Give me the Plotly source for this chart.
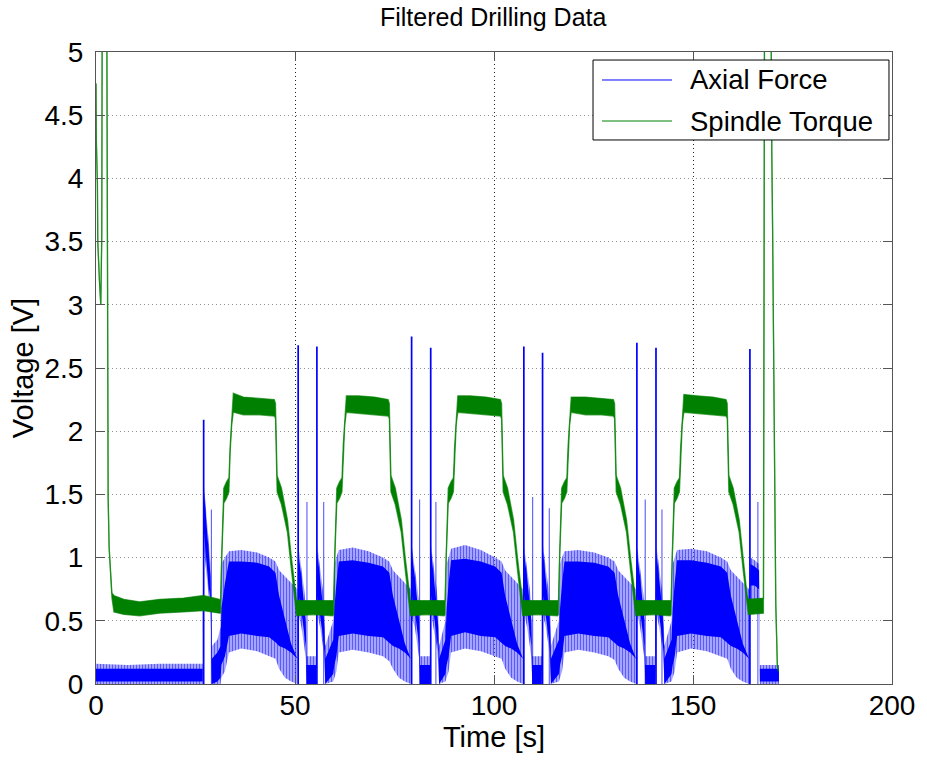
import plotly.graph_objects as go

# ---------------- Axial force (blue) ----------------
# Envelope of the noisy force signal: outer (sparse) band and inner (dense) band.
AF_T = [
    0.0, 8.0, 16.0, 26.8,
    27.0, 27.6, 28.2, 28.8,
    29.1, 30.5, 31.3,
    31.5, 32.4, 33.4, 36.5, 40.5, 43.5, 45.1,
    46.0, 47.5, 49.0, 50.6,
    50.9, 51.6, 52.3, 52.7, 52.9, 55.3,
    55.6, 56.3, 57.0, 57.4, 57.6, 59.6,
    59.9, 60.4, 61.0, 64.5, 68.5, 72.1, 73.7,
    74.6, 76.1, 77.6, 79.1,
    79.4, 80.1, 80.8, 81.2, 81.4, 83.9,
    84.2, 84.9, 85.6, 86.0, 86.2, 87.8,
    88.1, 88.6, 89.2, 92.7, 96.7, 100.3, 101.9,
    102.8, 104.3, 105.8, 107.3,
    107.6, 108.3, 109.0, 109.4, 109.6, 112.0,
    112.3, 113.0, 113.7, 114.1, 114.3, 116.3,
    116.6, 117.1, 117.7, 121.2, 125.2, 128.7, 130.3,
    131.2, 132.7, 134.2, 135.7,
    136.0, 136.7, 137.4, 137.8, 138.0, 140.5,
    140.8, 141.5, 142.2, 142.6, 142.8, 144.6,
    144.9, 145.4, 146.0, 149.5, 153.5, 157.0, 158.6,
    159.5, 161.0, 162.5, 164.1,
    164.4, 165.5, 166.6,
    166.8, 171.6,
]
AF_OUT_LO = [
    0.00, 0.00, 0.00, 0.00,
    1.10, 0.90, 0.72, 0.55,
    0.00, 0.00, 0.00,
    0.05, 0.10, 0.25, 0.28, 0.26, 0.22, 0.20,
    0.12, 0.05, 0.02, 0.00,
    0.55, 0.45, 0.30, 0.20, 0.00, 0.00,
    0.55, 0.45, 0.30, 0.15, 0.00, 0.02,
    0.05, 0.10, 0.25, 0.27, 0.25, 0.22, 0.18,
    0.12, 0.05, 0.02, 0.00,
    0.52, 0.45, 0.30, 0.20, 0.00, 0.00,
    0.55, 0.44, 0.30, 0.15, 0.00, 0.02,
    0.05, 0.10, 0.25, 0.28, 0.26, 0.22, 0.20,
    0.12, 0.05, 0.02, 0.00,
    0.55, 0.45, 0.30, 0.20, 0.00, 0.00,
    0.55, 0.45, 0.30, 0.15, 0.00, 0.02,
    0.05, 0.10, 0.25, 0.27, 0.25, 0.22, 0.19,
    0.12, 0.05, 0.02, 0.00,
    0.55, 0.45, 0.30, 0.20, 0.00, 0.00,
    0.55, 0.45, 0.30, 0.15, 0.00, 0.02,
    0.05, 0.10, 0.25, 0.28, 0.26, 0.22, 0.20,
    0.12, 0.05, 0.02, 0.00,
    0.60, 0.60, 0.55,
    0.00, 0.00,
]
AF_OUT_HI = [
    0.16, 0.15, 0.16, 0.16,
    1.62, 1.40, 1.12, 0.95,
    0.30, 0.35, 0.45,
    0.95, 1.00, 1.05, 1.06, 1.04, 1.00, 0.97,
    0.90, 0.85, 0.80, 0.75,
    1.08, 0.92, 0.75, 0.62, 0.22, 0.22,
    1.10, 0.92, 0.75, 0.60, 0.30, 0.50,
    0.95, 1.00, 1.06, 1.08, 1.05, 1.00, 0.97,
    0.90, 0.85, 0.80, 0.75,
    1.08, 0.92, 0.75, 0.62, 0.22, 0.22,
    1.10, 0.92, 0.75, 0.60, 0.30, 0.50,
    0.95, 1.00, 1.07, 1.10, 1.06, 1.00, 0.97,
    0.90, 0.85, 0.80, 0.75,
    1.08, 0.92, 0.75, 0.62, 0.22, 0.22,
    1.10, 0.92, 0.75, 0.60, 0.30, 0.50,
    0.95, 1.00, 1.05, 1.06, 1.04, 1.00, 0.97,
    0.90, 0.85, 0.80, 0.75,
    1.08, 0.92, 0.75, 0.62, 0.22, 0.22,
    1.10, 0.92, 0.75, 0.60, 0.30, 0.50,
    0.95, 1.00, 1.06, 1.07, 1.05, 1.00, 0.97,
    0.90, 0.85, 0.80, 0.75,
    1.00, 0.98, 0.95,
    0.15, 0.15,
]
AF_IN_LO = [
    0.02, 0.02, 0.02, 0.02,
    1.25, 1.00, 0.80, 0.65,
    0.00, 0.02, 0.05,
    0.15, 0.22, 0.38, 0.40, 0.38, 0.37, 0.33,
    0.30, 0.28, 0.25, 0.20,
    0.70, 0.58, 0.40, 0.30, 0.00, 0.00,
    0.70, 0.55, 0.38, 0.25, 0.00, 0.08,
    0.15, 0.22, 0.38, 0.40, 0.38, 0.37, 0.33,
    0.30, 0.28, 0.25, 0.20,
    0.70, 0.58, 0.40, 0.30, 0.00, 0.00,
    0.70, 0.55, 0.38, 0.25, 0.00, 0.08,
    0.15, 0.22, 0.38, 0.41, 0.38, 0.37, 0.33,
    0.30, 0.28, 0.25, 0.20,
    0.70, 0.58, 0.40, 0.30, 0.00, 0.00,
    0.70, 0.55, 0.38, 0.25, 0.00, 0.08,
    0.15, 0.22, 0.38, 0.40, 0.38, 0.37, 0.33,
    0.30, 0.28, 0.25, 0.20,
    0.70, 0.58, 0.40, 0.30, 0.00, 0.00,
    0.70, 0.55, 0.38, 0.25, 0.00, 0.08,
    0.15, 0.22, 0.38, 0.40, 0.38, 0.37, 0.33,
    0.30, 0.28, 0.25, 0.20,
    0.78, 0.78, 0.75,
    0.02, 0.02,
]
AF_IN_HI = [
    0.12, 0.12, 0.12, 0.12,
    1.58, 1.32, 1.05, 0.85,
    0.20, 0.25, 0.30,
    0.60, 0.80, 0.97, 0.97, 0.96, 0.93, 0.88,
    0.70, 0.50, 0.32, 0.20,
    1.02, 0.85, 0.65, 0.50, 0.15, 0.15,
    1.05, 0.85, 0.62, 0.45, 0.20, 0.35,
    0.60, 0.80, 0.97, 0.98, 0.96, 0.93, 0.88,
    0.70, 0.50, 0.32, 0.20,
    1.02, 0.85, 0.65, 0.50, 0.15, 0.15,
    1.05, 0.85, 0.62, 0.45, 0.20, 0.35,
    0.60, 0.80, 0.98, 0.99, 0.97, 0.93, 0.88,
    0.70, 0.50, 0.32, 0.20,
    1.02, 0.85, 0.65, 0.50, 0.15, 0.15,
    1.05, 0.85, 0.62, 0.45, 0.20, 0.35,
    0.60, 0.80, 0.97, 0.97, 0.96, 0.93, 0.88,
    0.70, 0.50, 0.32, 0.20,
    1.02, 0.85, 0.65, 0.50, 0.15, 0.15,
    1.05, 0.85, 0.62, 0.45, 0.20, 0.35,
    0.60, 0.80, 0.98, 0.98, 0.96, 0.93, 0.88,
    0.70, 0.50, 0.32, 0.20,
    0.95, 0.93, 0.90,
    0.12, 0.12,
]

# Force peaks at tool entry / exit
AF_TALL_T = [27.05, 50.8, 55.5, 79.3, 84.1, 107.5, 112.2, 135.9, 140.7, 164.3]
AF_TALL_V = [2.09, 2.68, 2.67, 2.75, 2.66, 2.67, 2.62, 2.70, 2.66, 2.65]
AF_SMALL_T = [29.0, 53.0, 57.2, 81.3, 85.4, 109.7, 113.9, 138.0, 142.2, 166.3]
AF_SMALL_V = [1.38, 1.44, 1.44, 1.46, 1.44, 1.48, 1.39, 1.46, 1.38, 1.44]

# ---------------- Spindle torque (green) ----------------
TQ_T = [
    0.0, 0.08, 0.35, 0.45, 0.85, 1.2, 1.45, 1.6, 2.65, 2.75, 2.95, 3.05, 3.3, 3.7, 4.0,
    4.5, 7.0, 11.0, 16.0, 22.0, 27.0, 31.0,
    31.3, 31.6, 32.1, 32.8, 33.4, 33.7, 34.1, 34.5,
    37.0, 41.0, 44.8,
    45.1, 45.3, 45.5, 46.6, 48.1, 49.1, 50.1, 50.4,
    54.5, 59.5,
    59.7, 60.0, 60.5, 61.2, 61.8, 62.1, 62.5, 62.9,
    66.0, 70.0, 73.4,
    73.7, 73.9, 74.1, 75.2, 76.7, 77.7, 78.7, 79.0,
    83.0, 87.5,
    87.7, 88.0, 88.5, 89.2, 89.8, 90.1, 90.5, 90.9,
    94.0, 98.0, 101.6,
    101.9, 102.1, 102.3, 103.4, 104.9, 105.9, 106.9, 107.2,
    111.0, 116.0,
    116.2, 116.5, 117.0, 117.7, 118.3, 118.6, 119.0, 119.4,
    123.0, 127.0, 130.0,
    130.3, 130.5, 130.7, 131.8, 133.3, 134.3, 135.3, 135.6,
    140.0, 144.3,
    144.5, 144.8, 145.3, 146.0, 146.6, 146.9, 147.3, 147.7,
    151.0, 155.0, 158.3,
    158.6, 158.8, 159.0, 160.1, 161.6, 162.6, 163.6, 163.9,
    167.7, 167.85, 168.0, 169.5, 169.6, 169.8, 170.0, 170.25, 170.5, 170.8, 171.2, 171.5,
]
TQ_LO = [
    4.75, 4.30, 3.96, 3.50, 3.20, 3.00, 3.55, 6.00, 6.00, 4.26, 2.80, 1.48, 1.08, 0.85, 0.68,
    0.57, 0.55, 0.54, 0.56, 0.57, 0.58, 0.56,
    0.56, 1.00, 1.43, 1.47, 1.52, 1.83, 2.05, 2.15,
    2.13, 2.13, 2.12,
    2.10, 1.88, 1.52, 1.42, 1.20, 0.90, 0.60, 0.54,
    0.55, 0.54,
    0.55, 1.00, 1.43, 1.47, 1.52, 1.83, 2.05, 2.15,
    2.14, 2.13, 2.12,
    2.10, 1.88, 1.52, 1.42, 1.20, 0.90, 0.60, 0.54,
    0.55, 0.54,
    0.55, 1.00, 1.43, 1.47, 1.52, 1.83, 2.05, 2.15,
    2.14, 2.13, 2.12,
    2.10, 1.88, 1.52, 1.42, 1.20, 0.90, 0.60, 0.54,
    0.55, 0.54,
    0.55, 1.00, 1.43, 1.47, 1.52, 1.83, 2.05, 2.15,
    2.13, 2.13, 2.12,
    2.10, 1.88, 1.52, 1.42, 1.20, 0.90, 0.60, 0.54,
    0.55, 0.54,
    0.55, 1.00, 1.43, 1.47, 1.52, 1.83, 2.05, 2.15,
    2.14, 2.13, 2.12,
    2.10, 1.88, 1.52, 1.42, 1.20, 0.90, 0.60, 0.55,
    0.56, 3.00, 6.00, 6.00, 5.00, 4.20, 3.60, 2.50, 1.30, 0.63, 0.14, 0.10,
]
TQ_HI = [
    4.75, 4.30, 3.96, 3.50, 3.20, 3.00, 3.55, 6.00, 6.00, 4.26, 2.80, 1.48, 1.08, 0.85, 0.72,
    0.70, 0.67, 0.65, 0.67, 0.68, 0.70, 0.67,
    0.66, 1.04, 1.55, 1.60, 1.63, 1.88, 2.10, 2.30,
    2.27, 2.26, 2.25,
    2.22, 1.92, 1.65, 1.55, 1.30, 1.00, 0.70, 0.66,
    0.66, 0.66,
    0.66, 1.04, 1.55, 1.60, 1.63, 1.88, 2.10, 2.28,
    2.28, 2.27, 2.25,
    2.22, 1.92, 1.65, 1.55, 1.30, 1.00, 0.70, 0.66,
    0.66, 0.66,
    0.66, 1.04, 1.55, 1.60, 1.63, 1.88, 2.10, 2.28,
    2.28, 2.27, 2.25,
    2.22, 1.92, 1.65, 1.55, 1.30, 1.00, 0.70, 0.66,
    0.66, 0.66,
    0.66, 1.04, 1.55, 1.60, 1.63, 1.88, 2.10, 2.27,
    2.27, 2.26, 2.25,
    2.22, 1.92, 1.65, 1.55, 1.30, 1.00, 0.70, 0.66,
    0.66, 0.66,
    0.66, 1.04, 1.55, 1.60, 1.63, 1.88, 2.10, 2.29,
    2.28, 2.27, 2.25,
    2.22, 1.92, 1.65, 1.55, 1.30, 1.00, 0.70, 0.67,
    0.68, 3.00, 6.00, 6.00, 5.00, 4.20, 3.60, 2.50, 1.30, 0.63, 0.14, 0.10,
]

SERIES_NAMES = ["Axial Force", "Spindle Torque"]
X_TICKS = [0, 50, 100, 150, 200]
Y_TICKS = [0, 0.5, 1, 1.5, 2, 2.5, 3, 3.5, 4, 4.5, 5]

BLUE = "rgb(0,0,255)"
GREEN = "rgb(0,128,0)"
FONT = "Liberation Sans, Arial, Helvetica, sans-serif"


def stems(ts, vs):
    xs, ys = [], []
    for t, v in zip(ts, vs):
        xs += [t, t, None]
        ys += [0.0, v, None]
    return xs, ys


fig = go.Figure()

# blue outer band: sparse samples, drawn as fine vertical hatching
fig.add_trace(go.Scatter(x=AF_T, y=AF_OUT_HI, mode="lines", line=dict(width=0),
                         showlegend=False, hoverinfo="skip"))
fig.add_trace(go.Scatter(x=AF_T, y=AF_OUT_LO, mode="lines", line=dict(width=0),
                         fill="tonexty", fillcolor="rgba(0,0,255,0.35)",
                         fillpattern=dict(shape="|", fgcolor=BLUE, bgcolor="rgba(90,90,255,0.45)",
                                          size=3, solidity=0.45),
                         showlegend=False, hoverinfo="skip"))
# blue inner band: dense samples
fig.add_trace(go.Scatter(x=AF_T, y=AF_IN_HI, mode="lines", line=dict(width=0),
                         showlegend=False, hoverinfo="skip"))
fig.add_trace(go.Scatter(x=AF_T, y=AF_IN_LO, mode="lines", line=dict(width=0),
                         fill="tonexty", fillcolor=BLUE,
                         showlegend=False, hoverinfo="skip"))
# force peaks
sx, sy = stems(AF_SMALL_T, AF_SMALL_V)
fig.add_trace(go.Scatter(x=sx, y=sy, mode="lines", line=dict(color="rgba(0,0,255,0.6)", width=1.2),
                         showlegend=False, hoverinfo="skip"))
tx, ty = stems(AF_TALL_T, AF_TALL_V)
fig.add_trace(go.Scatter(x=tx, y=ty, mode="lines", line=dict(color=BLUE, width=1.7),
                         showlegend=False, hoverinfo="skip"))

# green torque band
fig.add_trace(go.Scatter(x=TQ_T, y=TQ_HI, mode="lines",
                         line=dict(color="rgba(0,128,0,0.65)", width=1.3),
                         showlegend=False, hoverinfo="skip"))
fig.add_trace(go.Scatter(x=TQ_T, y=TQ_LO, mode="lines",
                         line=dict(color="rgba(0,128,0,0.65)", width=1.3),
                         fill="tonexty", fillcolor=GREEN,
                         showlegend=False, hoverinfo="skip"))

# legend box (paper coordinates, top-right corner of the axes)
LEG_X0, LEG_X1, LEG_Y0, LEG_Y1 = 0.6244, 0.9962, 0.8608, 0.9873
LEG_ROWS = [0.9557, 0.8908]
shapes = [dict(type="rect", xref="paper", yref="paper", x0=LEG_X0, x1=LEG_X1, y0=LEG_Y0, y1=LEG_Y1,
               line=dict(color="black", width=1), fillcolor="white", layer="above")]
annotations = []
for name, color, yrow in zip(SERIES_NAMES, [BLUE, GREEN], LEG_ROWS):
    shapes.append(dict(type="line", xref="paper", yref="paper", x0=0.6357, x1=0.7236,
                       y0=yrow, y1=yrow, line=dict(color=color, width=1), layer="above"))
    annotations.append(dict(xref="paper", yref="paper", x=0.7437, y=yrow, text=name,
                            showarrow=False, xanchor="left", yanchor="middle",
                            font=dict(family=FONT, size=27.5, color="black")))

axis_common = dict(
    showline=True, linecolor="#555555", linewidth=1, mirror="ticks",
    ticks="inside", ticklen=9, tickcolor="#555555", tickwidth=1,
    showgrid=True, griddash="1px,3px", gridwidth=1, zeroline=False,
    tickfont=dict(family=FONT, size=28, color="black"),
)

fig.update_xaxes(range=[0, 200], tickvals=X_TICKS, gridcolor="#222222", ticklabelstandoff=-4,
                 title=dict(text="Time [s]", font=dict(family=FONT, size=29, color="black"), standoff=0),
                 **axis_common)
fig.update_yaxes(range=[0, 5], tickvals=Y_TICKS, gridcolor="#909090", ticklabelstandoff=6,
                 title=dict(text="Voltage [V]", font=dict(family=FONT, size=29, color="black"), standoff=2),
                 **axis_common)

fig.update_layout(
    width=927, height=761,
    margin=dict(l=96, r=35, t=52, b=77),
    paper_bgcolor="white", plot_bgcolor="white",
    title=dict(text="Filtered Drilling Data", x=0.532, xanchor="center",
               y=1 - 17 / 761, yanchor="middle",
               font=dict(family=FONT, size=25, color="black")),
    shapes=shapes, annotations=annotations,
    showlegend=False,
)

fig.write_html("out.html")
